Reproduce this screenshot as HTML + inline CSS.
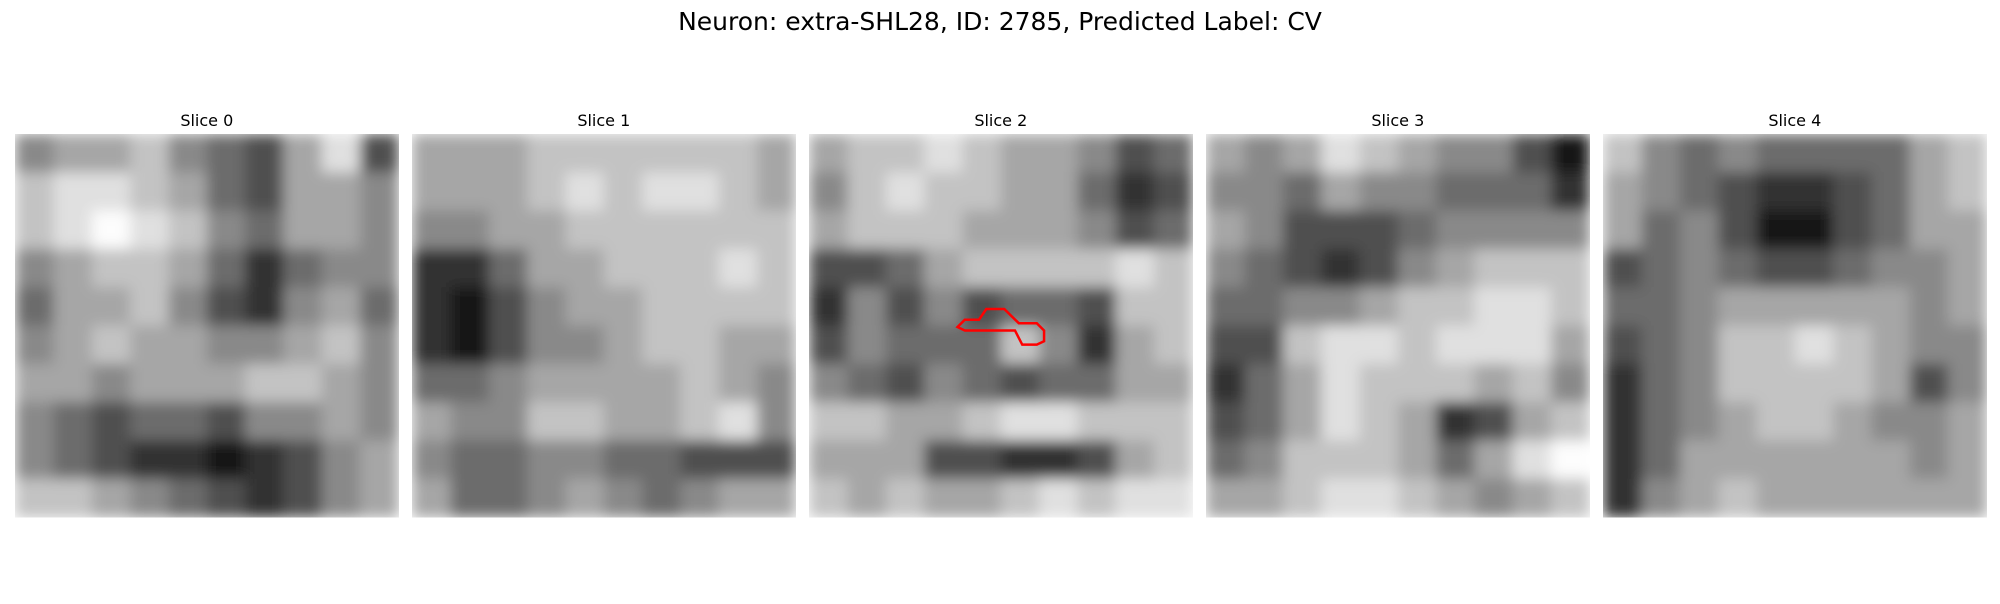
<!DOCTYPE html>
<html><head><meta charset="utf-8"><style>
body{margin:0;background:#fff;width:2000px;height:600px;overflow:hidden;font-family:"DejaVu Sans","Liberation Sans",sans-serif}
</style></head><body>
<svg id="fig" width="2000" height="600" xmlns="http://www.w3.org/2000/svg">
<defs><filter id="bl" x="0" y="0" width="1" height="1"><feGaussianBlur stdDeviation="7" edgeMode="duplicate"/></filter></defs>
<text x="1000" y="30" text-anchor="middle" font-size="25" font-family="DejaVu Sans, sans-serif" fill="#000">Neuron: extra-SHL28, ID: 2785, Predicted Label: CV</text>
</svg>
<script>
const sliceTitles=["Slice 0","Slice 1","Slice 2","Slice 3","Slice 4"];
const slice0=[[5,6,6,7,5,4,3,6,8,3],[7,8,8,7,6,4,3,6,6,5],[7,8,9,8,7,5,4,6,6,5],[5,6,7,7,6,4,2,4,5,5],[4,6,6,7,5,3,2,5,6,4],[5,6,7,6,6,5,5,6,7,5],[6,6,5,6,6,6,7,7,6,5],[5,4,3,4,4,3,5,5,6,5],[5,4,3,2,2,1,2,3,5,6],[7,7,6,5,4,3,2,3,5,6]];
const slice1=[[6,6,6,7,7,7,7,7,7,6],[6,6,6,7,8,7,8,8,7,6],[5,5,6,6,7,7,7,7,7,7],[2,2,4,6,6,7,7,7,8,7],[2,1,3,5,6,6,7,7,7,7],[2,1,3,5,5,6,7,7,6,6],[4,4,5,6,6,6,6,7,6,5],[6,5,5,7,7,6,6,7,8,5],[5,4,4,5,5,4,4,3,3,3],[6,4,4,5,6,5,4,5,6,6]];
const slice2=[[6,7,7,8,7,6,6,5,3,4],[5,7,8,7,7,6,6,4,2,3],[6,7,7,7,6,6,6,5,3,4],[3,3,4,6,7,7,7,7,8,7],[2,5,3,5,3,4,4,3,7,7],[3,5,4,4,4,7,5,2,6,7],[5,4,3,5,4,3,4,4,6,6],[7,7,6,6,7,8,8,7,7,7],[6,6,6,3,3,2,2,3,6,7],[7,6,7,6,6,7,8,7,8,8]];
const slice3=[[6,5,6,8,7,6,5,5,3,1],[5,5,4,6,5,5,4,4,4,2],[6,5,3,3,3,4,5,5,5,5],[5,4,3,2,3,5,6,7,7,7],[4,4,5,5,6,7,7,8,8,7],[3,3,7,8,8,7,8,8,8,6],[2,4,6,8,7,7,7,6,7,5],[3,4,6,8,7,6,2,3,6,7],[4,5,7,7,7,6,4,6,8,9],[6,6,7,8,8,7,6,5,6,7]];
const slice4=[[7,5,4,5,4,4,4,4,6,7],[6,5,4,3,2,2,3,4,6,7],[6,4,5,3,1,1,3,4,6,6],[3,4,5,4,3,3,4,5,5,6],[4,4,5,6,6,6,6,6,5,6],[3,4,5,7,7,8,7,6,5,5],[2,4,5,7,7,7,7,6,3,5],[2,4,5,6,7,7,6,5,5,6],[2,4,6,6,6,6,6,6,5,6],[2,5,6,7,6,6,6,6,6,6]];
const slices=[slice0,slice1,slice2,slice3,slice4];
const contourX=[3.87,4.06,4.43,4.62,5.09,5.47,5.94,6.13,6.13,5.94,5.56,5.37,4.06];
const contourY=[5.04,4.85,4.85,4.57,4.57,4.94,4.94,5.13,5.41,5.5,5.5,5.13,5.13];
const NS="http://www.w3.org/2000/svg";
const svg=document.getElementById('fig');
const panelX0=15.3, panelStep=397, panelY=134, panelW=383;
const gridN=10;
function px(i,c){return panelX0+i*panelStep+c*panelW/gridN;}
function py(r){return panelY+r*panelW/gridN;}
function grey(v){const g=Math.max(0,Math.min(255,Math.round(v*29-8)));return `rgb(${g},${g},${g})`;}
slices.forEach((data,i)=>{
  const t=document.createElementNS(NS,'text');
  t.setAttribute('x',px(i,0)+panelW/2);t.setAttribute('y',126);
  t.setAttribute('text-anchor','middle');t.setAttribute('font-size','16');
  t.textContent=sliceTitles[i];
  
  
  svg.appendChild(t);
  const g=document.createElementNS(NS,'g');
  g.setAttribute('filter','url(#bl)');
  
  
  data.forEach((row,r)=>row.forEach((v,c)=>{
    const rc=document.createElementNS(NS,'rect');
    rc.setAttribute('x',px(i,c));rc.setAttribute('y',py(r));
    rc.setAttribute('width',panelW/gridN+0.5);rc.setAttribute('height',panelW/gridN+0.5);
    rc.setAttribute('fill',grey(v));
    
    
    g.appendChild(rc);
  }));
  svg.appendChild(g);
});
const pts=contourX.map((x,k)=>px(2,x)+','+py(contourY[k])).join(' ');
const poly=document.createElementNS(NS,'polygon');
poly.setAttribute('points',pts);poly.setAttribute('fill','none');
poly.setAttribute('stroke','#f00');poly.setAttribute('stroke-width','2.5');


svg.appendChild(poly);
</script>
</body></html>
